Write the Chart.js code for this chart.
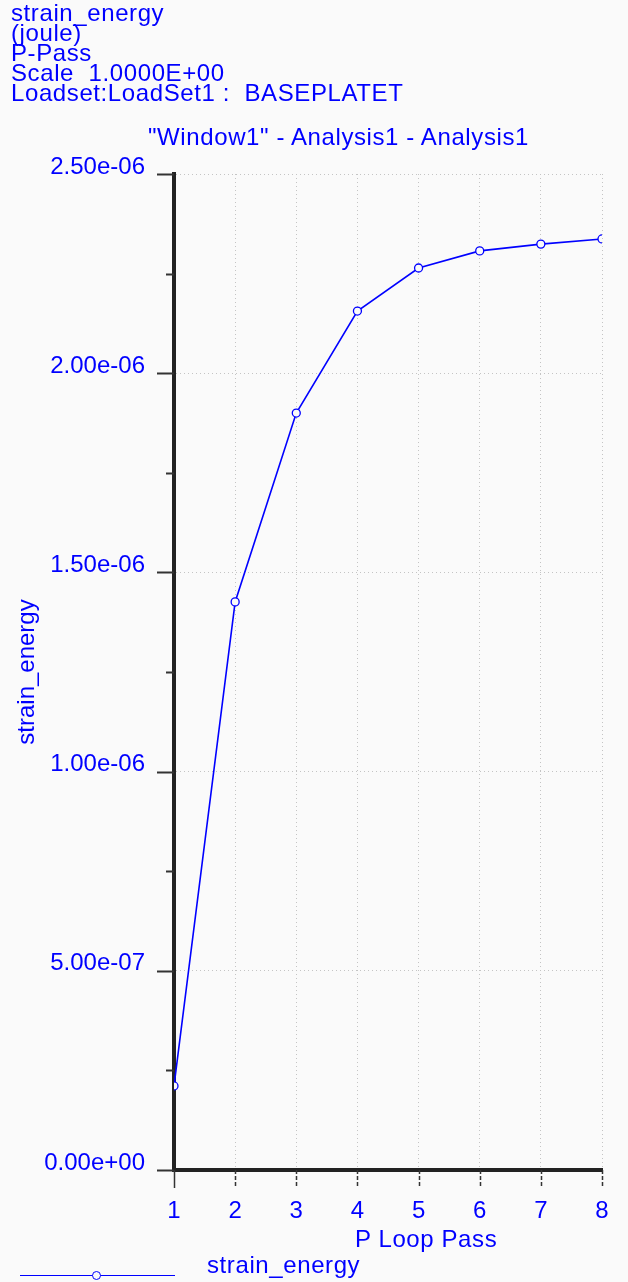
<!DOCTYPE html>
<html>
<head>
<meta charset="utf-8">
<script src="https://cdn.jsdelivr.net/npm/chart.js@4.4.1/dist/chart.umd.min.js"></script>
<style>
  html, body { margin: 0; padding: 0; background: #fafafa; }
  #wrap { position: relative; width: 628px; height: 1282px; overflow: hidden; }
  #chart { position: absolute; left: 0; top: 0; }
  .txt { position: absolute; color: #0000ff; font-family: "Liberation Sans", Arial, sans-serif;
         font-size: 24px; line-height: 20px; white-space: pre; letter-spacing: 0.6px; }
  #legendLine { position: absolute; left: 20px; top: 1275px; width: 155px; height: 0;
                border-top: 1.5px solid #0000ff; }
  #legendDot { position: absolute; left: 92px; top: 1271px; width: 7px; height: 7px;
               border: 1.3px solid #0000ff; border-radius: 50%; background: #fafafa; }
</style>
</head>
<body>
<div id="wrap">
  <canvas id="chart" width="628" height="1282"></canvas>
  <div class="txt" style="left:11px; top:3px;">strain_energy
(joule)
P-Pass
Scale  1.0000E+00
Loadset:LoadSet1 :  BASEPLATET</div>
  <div class="txt" style="left:148px; top:127px;">"Window1" - Analysis1 - Analysis1</div>
  <div class="txt" style="left:355px; top:1229px;">P Loop Pass</div>
  <div id="legendLine"></div>
  <div id="legendDot"></div>
  <div class="txt" style="left:207px; top:1255px;">strain_energy</div>
</div>
<script>
const passes = [1, 2, 3, 4, 5, 6, 7, 8];
const strainEnergy = [2.11e-7, 1.426e-6, 1.900e-6, 2.156e-6, 2.264e-6, 2.307e-6, 2.324e-6, 2.337e-6];
const yMax = 2.5e-6;
const yStep = 0.25e-6;

function isMajor(v) {
    return Math.round(v / yStep) % 2 === 0;
}

function fmtExp(v) {
    // 2.50e-06 style
    const s = v.toExponential(2);
    const [m, e] = s.split('e');
    const sign = e[0] === '-' ? '-' : '+';
    const digits = e.replace(/[+-]/, '').padStart(2, '0');
    return m + 'e' + sign + digits;
}

// tick marks of different lengths, drawn over the axes
const tickMarks = {
    id: 'tickMarks',
    afterDraw(chart) {
        const ctx = chart.ctx;
        const xs = chart.scales.x;
        const ys = chart.scales.y;
        const left = chart.chartArea.left;
        const bottom = chart.chartArea.bottom;
        ctx.save();
        ctx.strokeStyle = '#333333';
        ys.ticks.forEach(t => {
            const py = Math.round(ys.getPixelForValue(t.value)) + 0.5;
            const len = isMajor(t.value) ? 17 : 8;
            ctx.lineWidth = 2;
            ctx.beginPath();
            ctx.moveTo(left - len, py);
            ctx.lineTo(left, py);
            ctx.stroke();
        });
        xs.ticks.forEach((t, i) => {
            const px = Math.round(xs.getPixelForValue(t.value)) + 0.5;
            ctx.lineWidth = 1.5;
            ctx.setLineDash(i === 0 ? [] : [4, 2]);
            ctx.beginPath();
            ctx.moveTo(px, bottom);
            ctx.lineTo(px, bottom + 18);
            ctx.stroke();
        });
        ctx.restore();
    }
};

const ctx = document.getElementById('chart').getContext('2d');
Chart.defaults.font.family = '"Liberation Sans", Arial, sans-serif';
Chart.defaults.font.size = 24;
Chart.defaults.color = '#0000ff';

new Chart(ctx, {
    type: 'line',
    data: {
        datasets: [{
            label: 'strain_energy',
            data: passes.map((p, i) => ({ x: p, y: strainEnergy[i] })),
            borderColor: '#0000ff',
            borderWidth: 1.6,
            pointRadius: 4,
            pointBorderWidth: 1.3,
            pointBackgroundColor: '#fafafa',
            pointBorderColor: '#0000ff',
            tension: 0
        }]
    },
    options: {
        responsive: false,
        animation: false,
        layout: { padding: { top: 174, right: 26, bottom: 0, left: 0 } },
        plugins: {
            legend: { display: false },
            title: { display: false },
            tooltip: { enabled: false }
        },
        scales: {
            x: {
                type: 'linear',
                min: 1,
                max: 8,
                afterFit: s => {
                    s.height = 112;
                    s.paddingLeft = 0;
                    s.paddingRight = 0;
                },
                ticks: { stepSize: 1, padding: 27, color: '#0000ff' },
                grid: {
                    drawTicks: false,
                    color: c => c.index === 0 ? 'rgba(0,0,0,0)' : '#c4c4c4',
                    lineWidth: 1
                },
                border: { display: true, color: '#222222', width: 4, dash: [1, 3] }
            },
            y: {
                min: 0,
                max: yMax,
                afterFit: s => { s.width = 174; },
                ticks: {
                    stepSize: yStep,
                    padding: 29,
                    labelOffset: -7,
                    color: '#0000ff',
                    callback: v => isMajor(v) ? fmtExp(v) : ''
                },
                grid: {
                    drawTicks: false,
                    color: c => (c.tick && isMajor(c.tick.value) && c.index !== 0) ? '#c4c4c4' : 'rgba(0,0,0,0)',
                    lineWidth: 1
                },
                border: { display: true, color: '#222222', width: 4, dash: [1, 3] },
                title: {
                    display: true,
                    text: 'strain_energy',
                    color: '#0000ff',
                    padding: { top: 13, bottom: 0 }
                }
            }
        }
    },
    plugins: [tickMarks]
});
</script>
</body>
</html>
